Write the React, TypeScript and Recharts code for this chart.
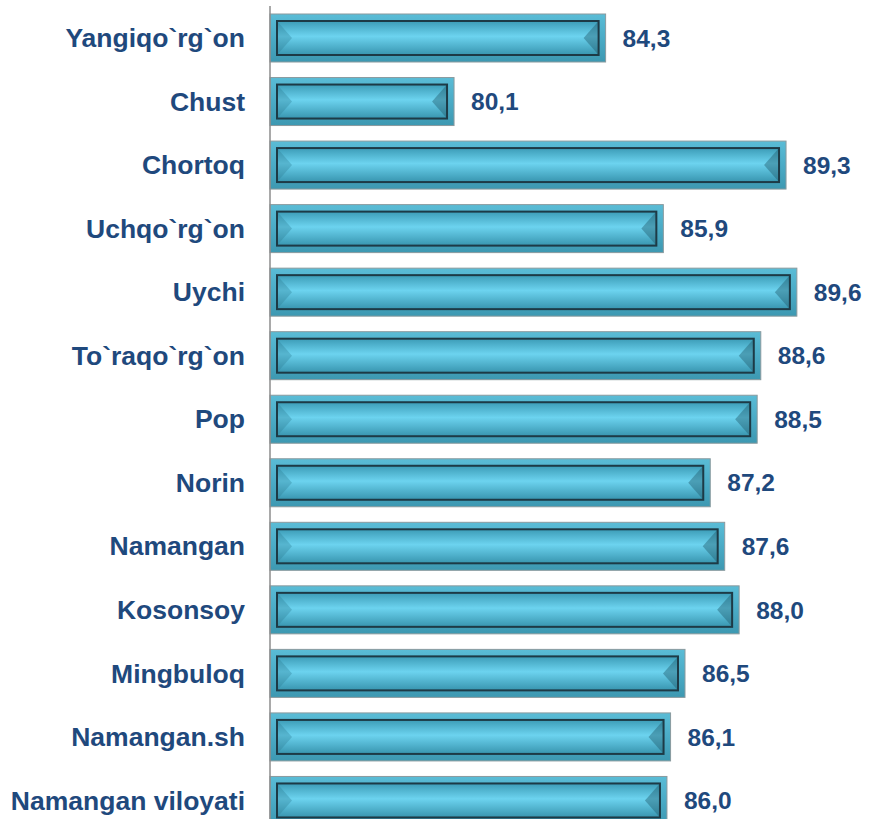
import { BarChart, Bar, XAxis, YAxis, LabelList } from "recharts";

const districts = [
  "Yangiqo`rg`on",
  "Chust",
  "Chortoq",
  "Uchqo`rg`on",
  "Uychi",
  "To`raqo`rg`on",
  "Pop",
  "Norin",
  "Namangan",
  "Kosonsoy",
  "Mingbuloq",
  "Namangan.sh",
  "Namangan viloyati",
];

const shares = [84.3, 80.1, 89.3, 85.9, 89.6, 88.6, 88.5, 87.2, 87.6, 88.0, 86.5, 86.1, 86.0];

const chartData = districts.map((name, i) => ({ name, value: shares[i] }));

const textBlue = "#1F497D";

// bevelled bar, roughly like the Office "aqua" preset
const BevelBar = (props: any) => {
  const { x, y, width, height } = props;
  if (!width || width <= 0) return null;
  const inset = 7;
  const ix = x + inset;
  const iy = y + inset;
  const iw = Math.max(width - inset * 2, 0);
  const ih = height - inset * 2;
  const b = Math.min(15, iw / 2);
  return (
    <g>
      <rect x={x} y={y} width={width} height={height} fill="url(#outerGrad)" stroke="#8a9a9e" strokeWidth={1} />
      <rect x={ix} y={iy} width={iw} height={ih} fill="url(#innerGrad)" />
      <polygon
        points={`${ix},${iy} ${ix + b},${iy + ih / 2} ${ix},${iy + ih}`}
        fill="#2f7f96"
        opacity={0.35}
      />
      <polygon
        points={`${ix + iw},${iy} ${ix + iw - b},${iy + ih / 2} ${ix + iw},${iy + ih}`}
        fill="#245f72"
        opacity={0.45}
      />
      <rect x={ix} y={iy} width={iw} height={ih} fill="none" stroke="#1d3a46" strokeWidth={2} />
    </g>
  );
};

const fmt = (v: any) => Number(v).toFixed(1).replace(".", ",");

export default function App() {
  return (
    <div style={{ position: "absolute", left: 0, top: 0, width: 871, height: 819, overflow: "hidden", background: "#fff" }}>
      <BarChart
        width={871}
        height={832}
        data={chartData}
        layout="vertical"
        margin={{ top: 6, right: 20, bottom: 0, left: 0 }}
      >
        <defs>
          <linearGradient id="outerGrad" x1="0" y1="0" x2="0" y2="1">
            <stop offset="0%" stopColor="#5abcd6" />
            <stop offset="50%" stopColor="#4aabc6" />
            <stop offset="100%" stopColor="#3d98b1" />
          </linearGradient>
          <linearGradient id="innerGrad" x1="0" y1="0" x2="0" y2="1">
            <stop offset="0%" stopColor="#3c9cb7" />
            <stop offset="45%" stopColor="#6cd3ef" />
            <stop offset="100%" stopColor="#3895af" />
          </linearGradient>
        </defs>
        <XAxis type="number" domain={[75, 91.1]} hide />
        <YAxis
          type="category"
          dataKey="name"
          width={270}
          axisLine={{ stroke: "#8c8c8c", strokeWidth: 1.5 }}
          tickLine={false}
          tickSize={0}
          tickMargin={25}
          interval={0}
          tick={{ fill: textBlue, fontSize: 26.5, fontWeight: "bold", fontFamily: "Liberation Sans, Arial, sans-serif" }}
        />
        <Bar dataKey="value" barSize={48} shape={<BevelBar />} isAnimationActive={false}>
          <LabelList
            dataKey="value"
            position="right"
            offset={17}
            formatter={fmt}
            style={{ fill: textBlue, fontSize: 24.5, fontWeight: "bold", fontFamily: "Liberation Sans, Arial, sans-serif" }}
          />
        </Bar>
      </BarChart>
    </div>
  );
}
